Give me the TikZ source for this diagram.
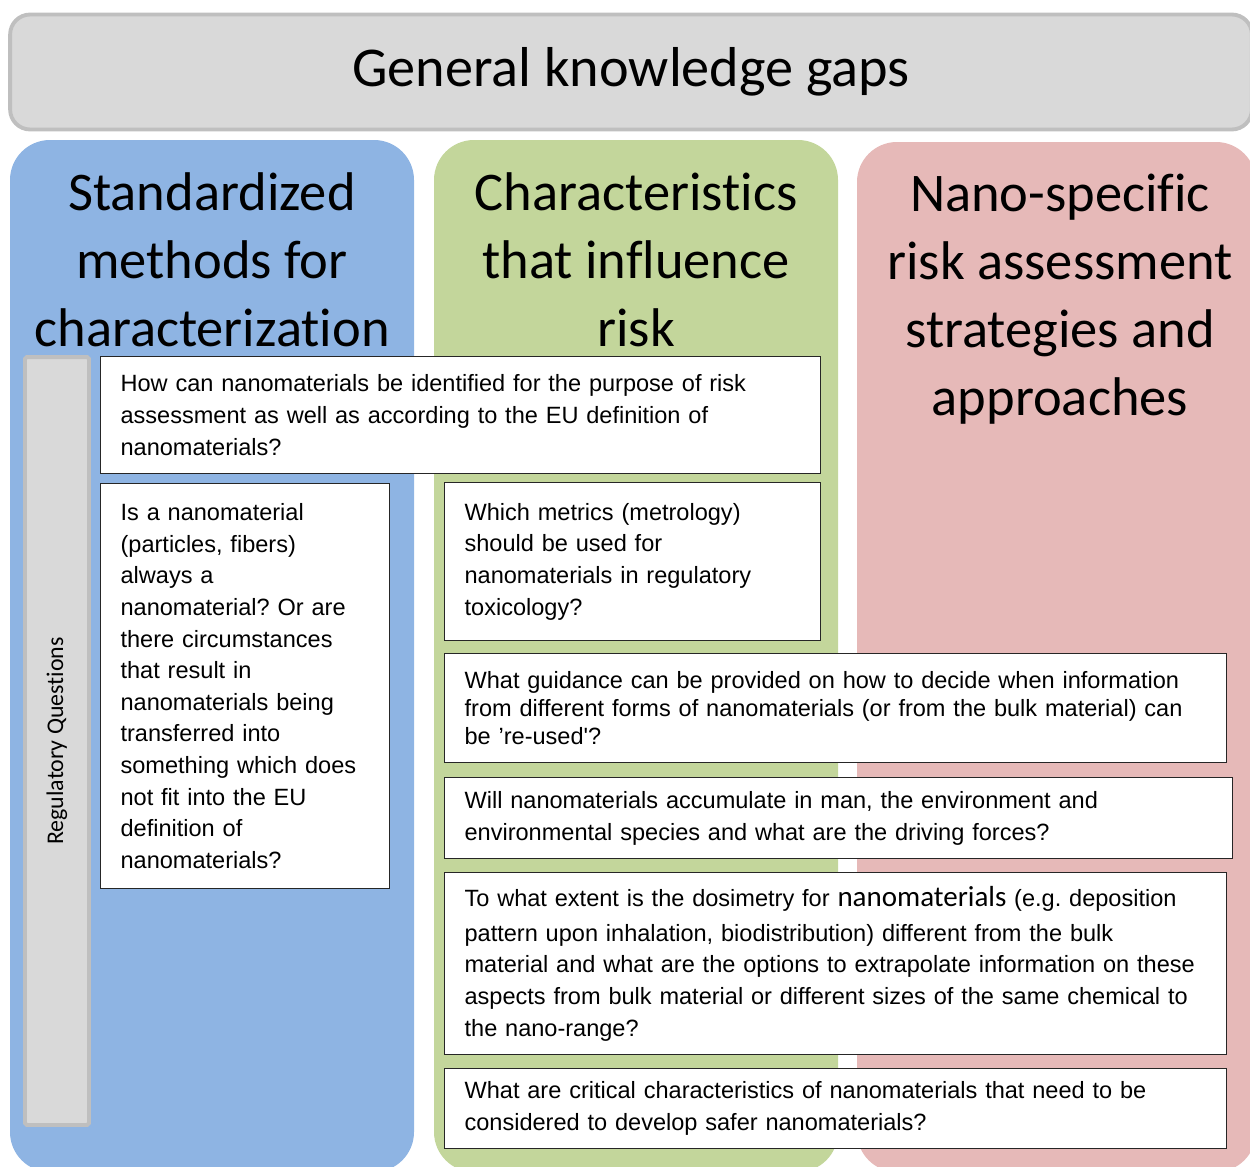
\documentclass[tikz,border=0pt]{standalone}
\usepackage{fontspec}
\setmainfont{Liberation Sans}
\newfontfamily\calibri[Ligatures=NoCommon]{Carlito}
\usetikzlibrary{backgrounds}

\definecolor{gapgray}{HTML}{D9D9D9}
\definecolor{gapedge}{HTML}{BFBFBF}
\definecolor{methblue}{HTML}{8EB4E3}
\definecolor{chargreen}{HTML}{C3D69B}
\definecolor{riskred}{HTML}{E6B9B8}
\frenchspacing

\begin{document}
\begin{tikzpicture}[x=0.02cm, y=-0.02cm]
  \tikzstyle{qbox} = [rectangle, draw=black!85, fill=white, line width=0.7pt, anchor=north west, inner xsep=0.4cm, inner ysep=0pt, align=left, font=\fontsize{13.4}{18}\selectfont]
  \tikzstyle{colhead} = [anchor=north, inner sep=0pt, align=center, font=\calibri\fontsize{31}{38.7}\selectfont]
  \tikzstyle{column} = [rounded corners=0.8cm]
  \tikzstyle{graybox} = [rectangle, draw=gapedge, fill=gapgray, line width=2.2pt]

  \clip (0,0) rectangle (1250,1166);

  \node (gaps) [graybox, rounded corners=0.4cm, minimum width=24.84cm, minimum height=2.3cm, font=\calibri\fontsize{32}{38}\selectfont] at (631,72) {General knowledge gaps};

  \node (head1) [colhead] at (212,172) {Standardized\\ methods for\\ characterization};
  \node (head2) [colhead] at (636,172) {Characteristics\\ that influence\\ risk};
  \node (head3) [colhead] at (1060,174) {Nano-specific\\ risk assessment\\ strategies and\\ approaches};

  \node (regq) [graybox, rounded corners=1pt, rotate=90, minimum width=15.36cm, minimum height=1.28cm, inner sep=0pt, font=\calibri\fontsize{13.6}{15}\selectfont] at (57,741) {Regulatory Questions};

  % questions
  \node (qident) [qbox, text width=13.6cm, minimum height=2.34cm] at (100,356) {How can nanomaterials be identified for the purpose of risk\\ assessment as well as according to the EU definition of\\ nanomaterials?};
  \node (qtransf) [qbox, text width=4.98cm, minimum height=8.1cm] at (100,483) {Is a nanomaterial\\ (particles, fibers)\\ always a\\ nanomaterial? Or are\\ there circumstances\\ that result in\\ nanomaterials being\\ transferred into\\ something which does\\ not fit into the EU\\ definition of\\ nanomaterials?};
  \node (qmetric) [qbox, text width=6.72cm, minimum height=3.16cm] at (444,482) {Which metrics (metrology)\\ should be used for\\ nanomaterials in regulatory\\ toxicology?};
  \node (qreuse) [qbox, text width=14.84cm, minimum height=2.18cm, font=\fontsize{13.4}{16}\selectfont] at (444,653) {What guidance can be provided on how to decide when information\\ from different forms of nanomaterials (or from the bulk material) can\\ be ’re-used\textquotesingle?};
  \node (qaccum) [qbox, text width=14.96cm, minimum height=1.62cm] at (444,777) {Will nanomaterials accumulate in man, the environment and\\ environmental species and what are the driving forces?};
  \node (qdose) [qbox, text width=14.84cm, minimum height=3.64cm] at (444,872) {To what extent is the dosimetry for {\calibri\fontsize{16.5}{18}\selectfont nanomaterials} (e.g. deposition\\[2pt] pattern upon inhalation, biodistribution) different from the bulk\\ material and what are the options to extrapolate information on these\\ aspects from bulk material or different sizes of the same chemical to\\ the nano-range?};
  \node (qsafe) [qbox, text width=14.84cm, minimum height=1.6cm] at (444,1068) {What are critical characteristics of nanomaterials that need to be\\ considered to develop safer nanomaterials?};

  % the three columns
  \begin{pgfonlayer}{background}
    \fill [methblue, column] (10,140) rectangle (414,1172);
    \fill [chargreen, column] (434,140) rectangle (838,1172);
    \fill [riskred, column] (857,142) rectangle (1256,1172);
  \end{pgfonlayer}
\end{tikzpicture}
\end{document}
